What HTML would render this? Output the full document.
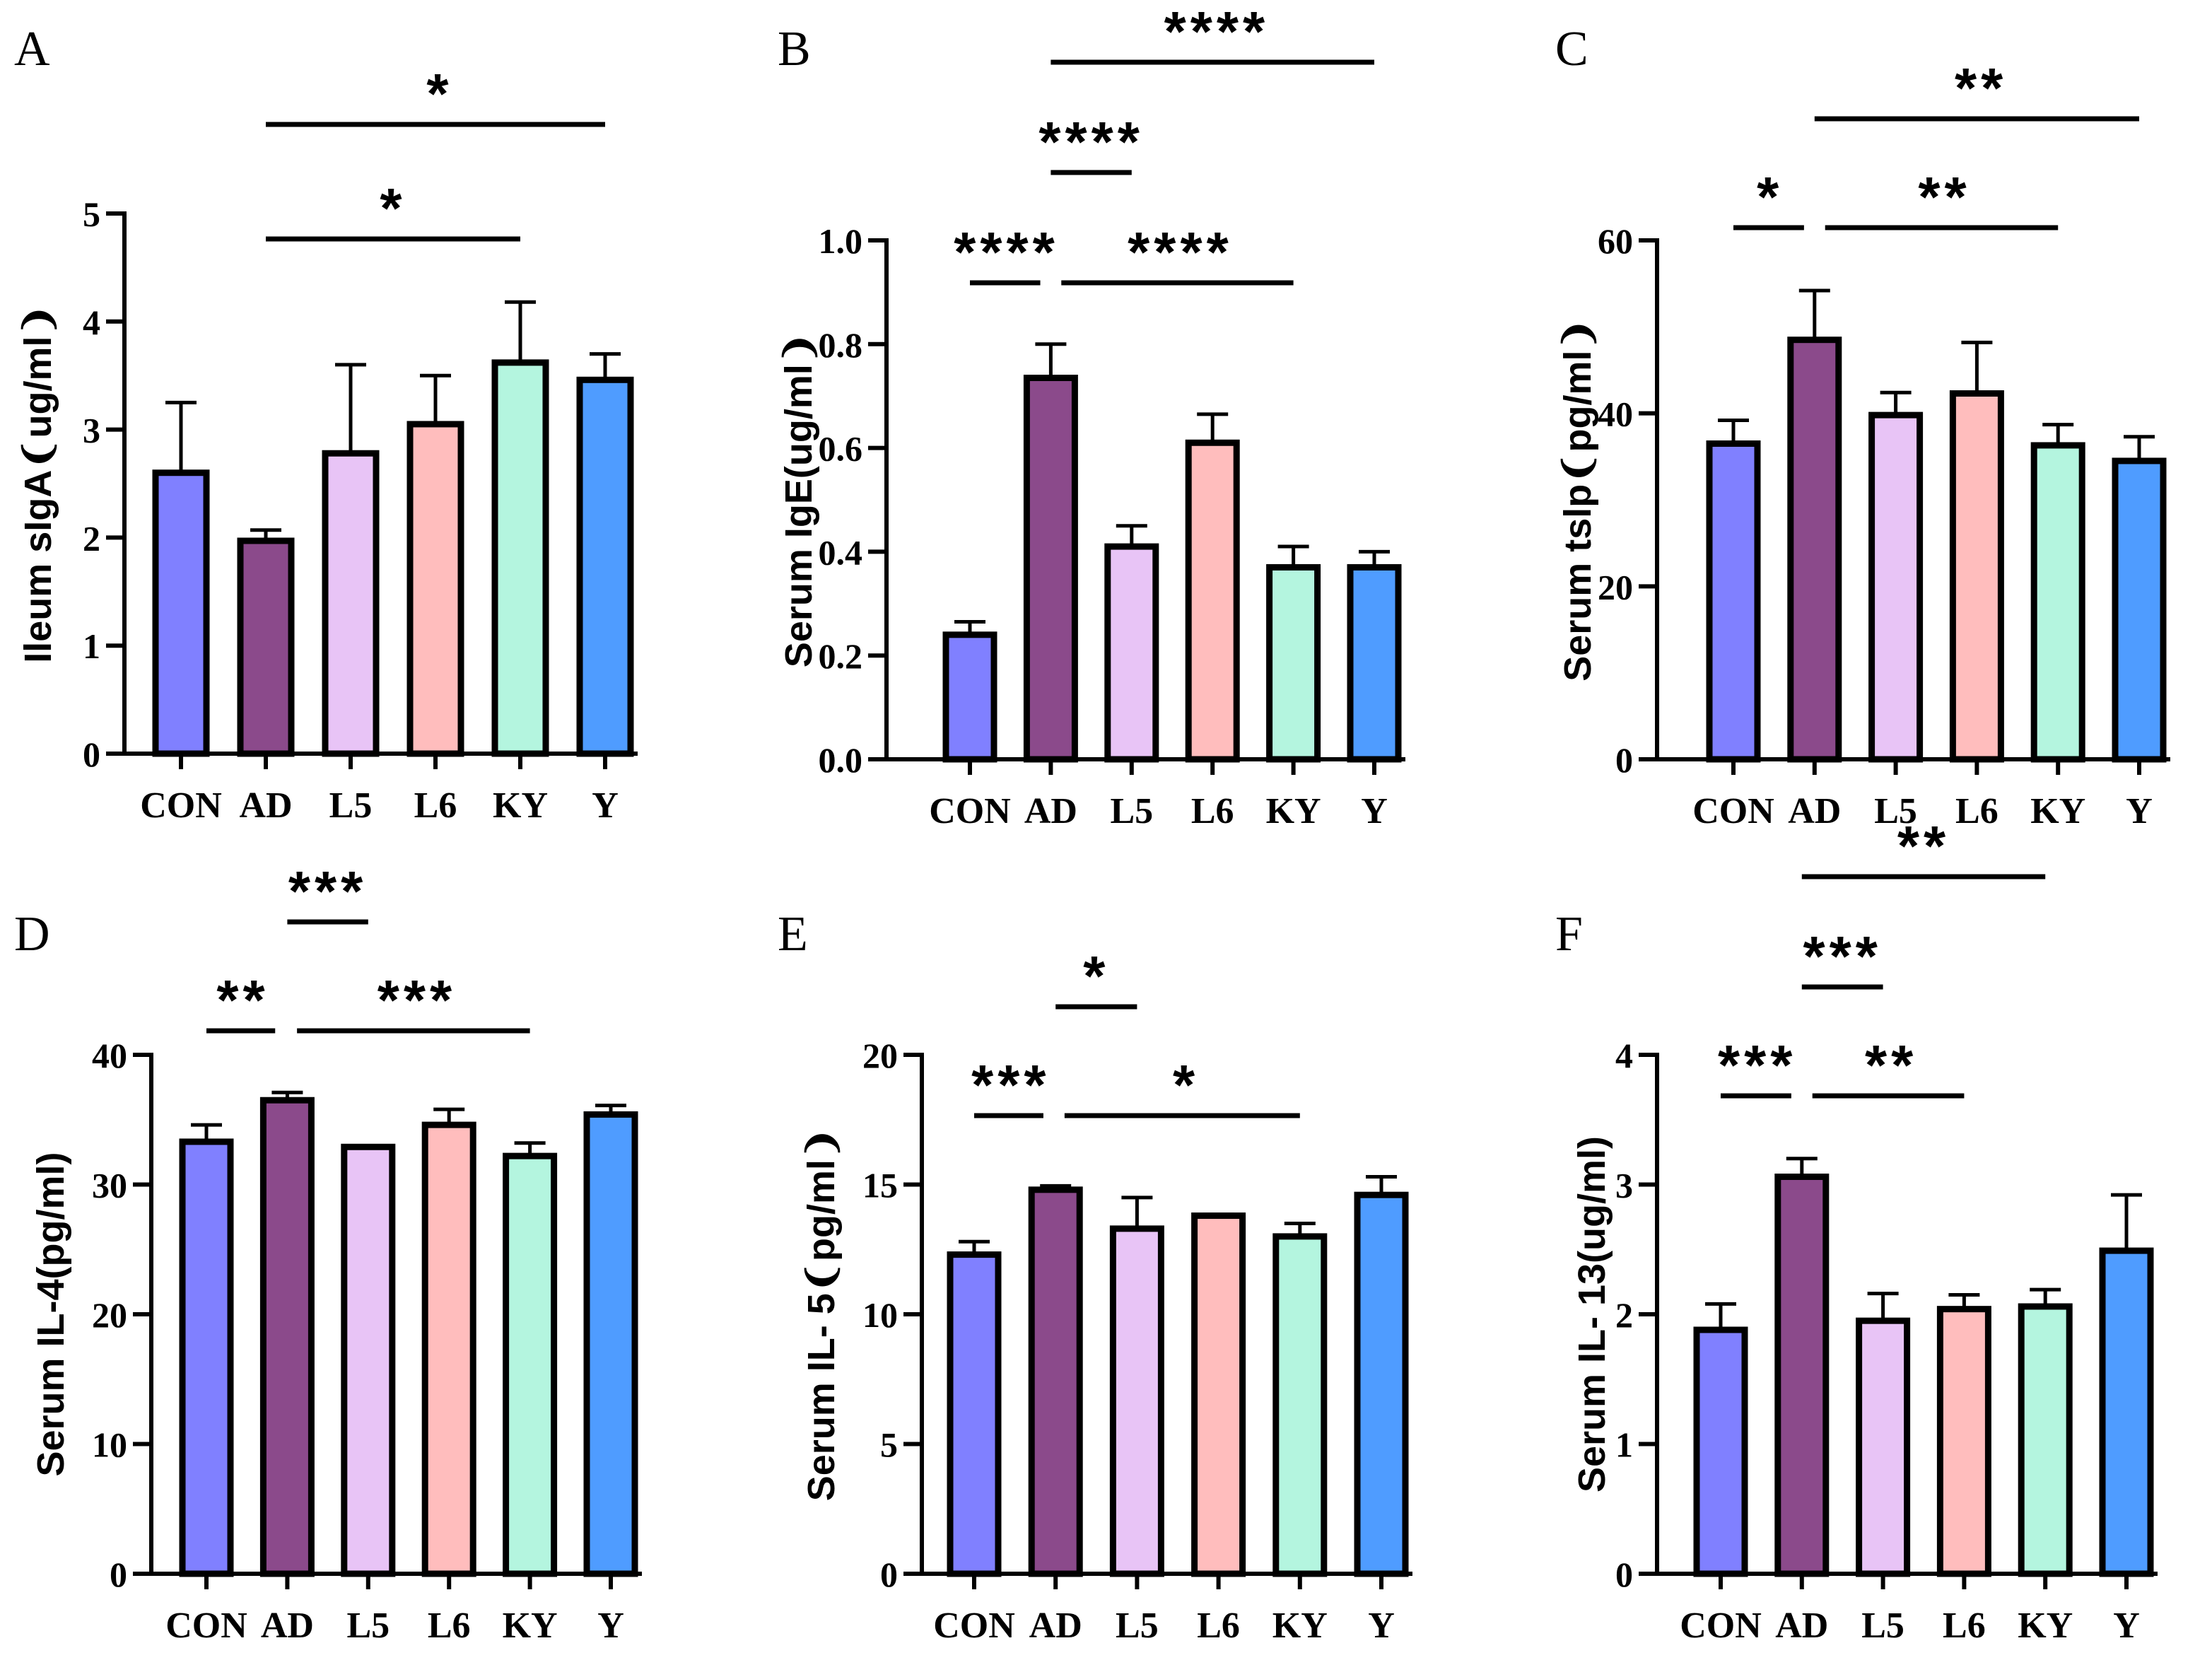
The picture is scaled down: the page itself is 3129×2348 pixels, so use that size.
<!DOCTYPE html>
<html><head><meta charset="utf-8">
<style>
html,body{margin:0;padding:0;background:#fff;}
svg{display:block;}
.tick{font-family:"Liberation Serif",serif;font-weight:bold;font-size:25px;}
.cat{font-family:"Liberation Serif",serif;font-weight:bold;font-size:26px;}
.ytitle{font-family:"Liberation Sans",sans-serif;font-weight:bold;font-size:27px;}
.letter{font-family:"Liberation Serif",serif;font-size:35px;}
.star{font-family:"Liberation Sans",sans-serif;font-weight:bold;font-size:40px;letter-spacing:3px;}
</style></head>
<body>
<svg id="chart" width="3129" height="2348" viewBox="0 0 1564.5 1174" xmlns="http://www.w3.org/2000/svg"></svg>
<script>
const categories = ["CON","AD","L5","L6","KY","Y"];
const colors = ["#8080ff","#8b4a8b","#e8c4f6","#ffbdbd","#b4f5df","#4f9cff"];

const valuesA = [2.6,1.97,2.78,3.05,3.62,3.46];
const errA    = [3.25,2.07,3.6,3.5,4.18,3.7];
const ticksA  = [0,1,2,3,4,5];
const valuesB = [0.24,0.735,0.41,0.61,0.37,0.37];
const errB    = [0.265,0.8,0.45,0.665,0.41,0.4];
const ticksB  = ["0.0","0.2","0.4","0.6","0.8","1.0"];
const valuesC = [36.5,48.5,39.8,42.3,36.3,34.5];
const errC    = [39.2,54.2,42.4,48.2,38.7,37.3];
const ticksC  = [0,20,40,60];
const valuesD = [33.3,36.5,32.9,34.6,32.2,35.4];
const errD    = [34.6,37.1,33.0,35.8,33.2,36.1];
const ticksD  = [0,10,20,30,40];
const valuesE = [12.3,14.8,13.3,13.8,13.0,14.6];
const errE    = [12.8,14.95,14.5,13.85,13.5,15.3];
const ticksE  = [0,5,10,15,20];
const valuesF = [1.88,3.06,1.95,2.04,2.06,2.49];
const errF    = [2.08,3.2,2.16,2.15,2.19,2.92];
const ticksF  = [0,1,2,3,4];

const NS="http://www.w3.org/2000/svg";
const svg=document.getElementById('chart');
function mk(tag,attrs,parent,text){const e=document.createElementNS(NS,tag);for(const k in attrs)e.setAttribute(k,attrs[k]);if(text!==undefined)e.textContent=text;(parent||svg).appendChild(e);return e;}

const panels=[
 {id:"a",letter:"A",lx:10,ly:46,ax:88,y0:533,y1:151,max:5,ticks:ticksA,vals:valuesA,err:errA,x0:128,dx:60,bw:36,title:"Ileum sIgA\u2768ug/ml\u2769",tx:36,
  sig:[{y:88,segs:[[1,5]],lab:"*",cx:3.05},{y:169,segs:[[1,4]],lab:"*",cx:2.5}]},
 {id:"b",letter:"B",lx:550,ly:46,ax:627,y0:537,y1:170,max:1,ticks:ticksB,vals:valuesB,err:errB,x0:686,dx:57.2,bw:34,title:"Serum IgE(ug/ml\u2769",tx:574,
  sig:[{y:44,segs:[[1,5]],lab:"****",cx:3.05},{y:122,segs:[[1,2]],lab:"****",cx:1.5},{y:200,segs:[[0,0.87],[1.13,4]],lab2:[["****",0.45],["****",2.6]]}]},
 {id:"c",letter:"C",lx:1100,ly:46,ax:1172,y0:537,y1:170,max:60,ticks:ticksC,vals:valuesC,err:errC,x0:1226,dx:57.4,bw:34,title:"Serum tslp\u2768pg/ml\u2769",tx:1125,
  sig:[{y:84,segs:[[1,5]],lab:"**",cx:3.05},{y:161,segs:[[0,0.87],[1.13,4]],lab2:[["*",0.45],["**",2.6]]}]},
 {id:"d",letter:"D",lx:10,ly:672,ax:107,y0:1113,y1:746,max:40,ticks:ticksD,vals:valuesD,err:errD,x0:146,dx:57.2,bw:34,title:"Serum IL-4(pg/ml)",tx:45,
  sig:[{y:652,segs:[[1,2]],lab:"***",cx:1.5},{y:729,segs:[[0,0.85],[1.12,4]],lab2:[["**",0.45],["***",2.6]]}]},
 {id:"e",letter:"E",lx:550,ly:672,ax:652,y0:1113,y1:746,max:20,ticks:ticksE,vals:valuesE,err:errE,x0:689,dx:57.6,bw:34,title:"Serum IL- 5\u2768pg/ml\u2769",tx:590,
  sig:[{y:712,segs:[[1,2]],lab:"*",cx:1.5},{y:789,segs:[[0,0.85],[1.11,4]],lab2:[["***",0.45],["*",2.6]]}]},
 {id:"f",letter:"F",lx:1100,ly:672,ax:1172,y0:1113,y1:746,max:4,ticks:ticksF,vals:valuesF,err:errF,x0:1217,dx:57.4,bw:34,title:"Serum IL- 13(ug/ml)",tx:1135,
  sig:[{y:620,segs:[[1,4]],lab:"**",cx:2.5},{y:698,segs:[[1,2]],lab:"***",cx:1.5},{y:775,segs:[[0,0.87],[1.13,3]],lab2:[["***",0.45],["**",2.1]]}]}
];

panels.forEach(p=>{
 const g=mk('g',{});
 
 
 const yS=v=>p.y0-(v/p.max)*(p.y0-p.y1);
 const xS=i=>p.x0+i*p.dx;
 const L=mk('text',{x:p.lx,y:p.ly,class:'letter'},g,p.letter);
 
 
 p.vals.forEach((v,i)=>{
  const cx=xS(i);
  const eb=mk('line',{x1:cx,x2:cx,y1:yS(v),y2:yS(p.err[i]),stroke:'#000','stroke-width':2.5},g);
  
  
  const cap=mk('line',{x1:cx-11,x2:cx+11,y1:yS(p.err[i]),y2:yS(p.err[i]),stroke:'#000','stroke-width':2.5},g);
  
  
  const r=mk('rect',{x:cx-p.bw/2,y:yS(v),width:p.bw,height:p.y0-yS(v),fill:colors[i],stroke:'#000','stroke-width':4.5},g);
  
  
  const t=mk('text',{x:cx,y:p.y0+45,'text-anchor':'middle',class:'cat'},g,categories[i]);
  
  
  const tk=mk('line',{x1:cx,x2:cx,y1:p.y0,y2:p.y0+11,stroke:'#000','stroke-width':3},g);
  
  
 });
 const xa=mk('line',{x1:p.ax,x2:xS(5)+p.bw/2+5,y1:p.y0,y2:p.y0,stroke:'#000','stroke-width':3},g);
 
 
 const ya=mk('line',{x1:p.ax,x2:p.ax,y1:p.y0+1.5,y2:p.y1-1.5,stroke:'#000','stroke-width':3},g);
 
 
 p.ticks.forEach(t=>{
  const yy=yS(parseFloat(t));
  const tl=mk('line',{x1:p.ax-13,x2:p.ax,y1:yy,y2:yy,stroke:'#000','stroke-width':3},g);
  
  
  const tt=mk('text',{x:p.ax-17,y:yy+9,'text-anchor':'end',class:'tick'},g,String(t));
  
  
 });
 const ym=(p.y0+p.y1)/2;
 const yt=mk('text',{x:p.tx,y:ym,'text-anchor':'middle',class:'ytitle',transform:`rotate(-90 ${p.tx} ${ym})`},g,p.title);
 
 
 p.sig.forEach(s=>{
  s.segs.forEach(sg=>{
   const l=mk('line',{x1:xS(sg[0]),x2:xS(sg[1]),y1:s.y,y2:s.y,stroke:'#000','stroke-width':3.5},g);
   
   
  });
  const labs=s.lab2||[[s.lab,s.cx]];
  labs.forEach(lb=>{
   const st=mk('text',{x:xS(lb[1]),y:s.y-8,'text-anchor':'middle',class:'star'},g,lb[0]);
   
   
  });
 });
});
</script>
</body></html>
